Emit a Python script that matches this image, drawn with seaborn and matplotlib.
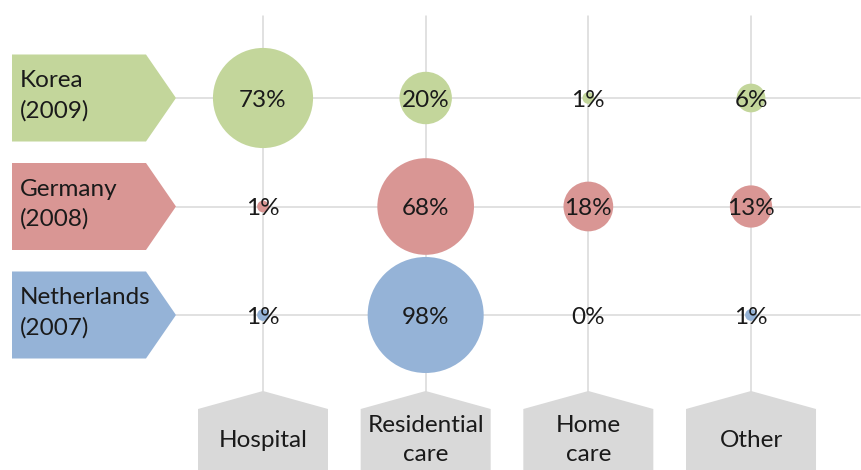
import matplotlib
matplotlib.use("Agg")
import matplotlib.pyplot as plt
from matplotlib.patches import Polygon
import seaborn as sns
import pandas as pd

# ---- data ----
countries = ["Korea\n(2009)", "Germany\n(2008)", "Netherlands\n(2007)"]
settings = ["Hospital", "Residential\ncare", "Home\ncare", "Other"]
korea = [73, 20, 1, 6]
germany = [1, 68, 18, 13]
netherlands = [1, 98, 0, 1]
country_colors = ["#C3D69B", "#D99694", "#95B3D7"]

series = [korea, germany, netherlands]
rows = []
for ri, (c, vals) in enumerate(zip(countries, series)):
    for ci, (s, v) in enumerate(zip(settings, vals)):
        rows.append({"country": c, "setting": s, "row": ri, "col": ci, "value": v})
df = pd.DataFrame(rows)

sns.set_theme(style="white")
plt.rcParams["font.family"] = ["Lato", "DejaVu Sans"]

W, H, DPI = 862, 470, 100
fig = plt.figure(figsize=(W / DPI, H / DPI), dpi=DPI)
ax = fig.add_axes([0, 0, 1, 1])

# layout in pixels -> data units
X0, DX = 263.0, 162.67   # column 0 centre, spacing (px)
Y0, DY = 98.0, 108.5     # row 0 centre, spacing (px)

def px(x):
    return (x - X0) / DX

def py(y):
    return (y - Y0) / DY

grid_c = "#D9D9D9"
ncol, nrow = len(settings), len(countries)
# grid lines
for ci in range(ncol):
    ax.plot([ci, ci], [py(16), py(395)], color=grid_c, lw=1.1, zorder=1)
for ri in range(nrow):
    ax.plot([px(176), px(860)], [ri, ri], color=grid_c, lw=1.1, zorder=1)

# bubbles (area proportional to value)
dmax_pt = 116 * 72 / DPI
sns.scatterplot(data=df, x="col", y="row", hue="country", size="value",
                sizes=(0, dmax_pt ** 2), size_norm=(0, 98),
                palette=dict(zip(countries, country_colors)),
                linewidth=0, alpha=1, legend=False, ax=ax, zorder=2)
ax.set_xlim(-X0 / DX, (W - X0) / DX)
ax.set_ylim((H - Y0) / DY, -Y0 / DY)
ax.axis("off")

for _, r in df.iterrows():
    ax.text(r["col"], r["row"] + 0.02, f"{r['value']}%", ha="center", va="center",
            fontsize=17.5, color="#1a1a1a", zorder=3)

# row label arrows
hh = 43.5 / DY
for ri, (c, col) in enumerate(zip(countries, country_colors)):
    poly = Polygon([(px(12), ri - hh), (px(146), ri - hh), (px(176), ri),
                    (px(146), ri + hh), (px(12), ri + hh)],
                   closed=True, facecolor=col, edgecolor="none", zorder=2)
    ax.add_patch(poly)
    ax.text(px(20), ri - 0.02, c, ha="left", va="center", fontsize=17.5,
            color="#1a1a1a", linespacing=1.5, zorder=3)

# column label shapes
hw = 65 / DX
for ci, s in enumerate(settings):
    poly = Polygon([(ci - hw, py(500)), (ci - hw, py(409)), (ci, py(391)),
                    (ci + hw, py(409)), (ci + hw, py(500))],
                   closed=True, facecolor="#D9D9D9", edgecolor="none", zorder=2)
    ax.add_patch(poly)
    ax.text(ci, py(440), s, ha="center", va="center", fontsize=17.5,
            color="#1a1a1a", linespacing=1.5, zorder=3)

fig.savefig("out.png", dpi=DPI)
